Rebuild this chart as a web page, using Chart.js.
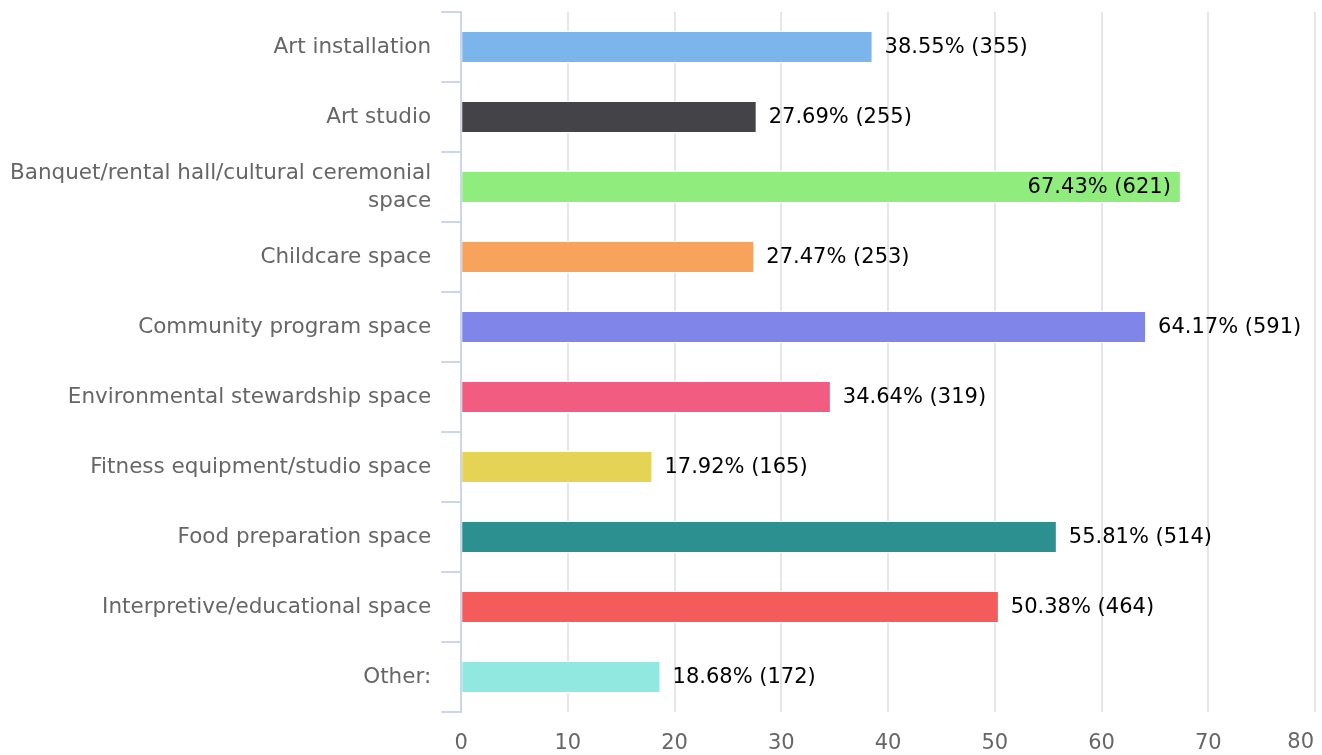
<!DOCTYPE html>
<html>
<head>
<meta charset="utf-8">
<script src="https://cdn.jsdelivr.net/npm/chart.js@4/dist/chart.umd.min.js"></script>
<style>
body{margin:0;background:#fff;}
#wrap{width:1322px;height:755px;position:relative;}
</style>
</head>
<body>
<div id="wrap"><canvas id="chart"></canvas></div>
<script>
const categories = [
  "Art installation",
  "Art studio",
  ["Banquet/rental hall/cultural ceremonial", "space"],
  "Childcare space",
  "Community program space",
  "Environmental stewardship space",
  "Fitness equipment/studio space",
  "Food preparation space",
  "Interpretive/educational space",
  "Other:"
];
const percents = [38.55, 27.69, 67.43, 27.47, 64.17, 34.64, 17.92, 55.81, 50.38, 18.68];
const counts = [355, 255, 621, 253, 591, 319, 165, 514, 464, 172];
const xTicks = [0, 10, 20, 30, 40, 50, 60, 70, 80];
const colors = ["#7cb5ec", "#434348", "#90ed7d", "#f7a35c", "#8085e9",
  "#f15c80", "#e4d354", "#2b908f", "#f45b5b", "#91e8e1"];
const xMax = xTicks[xTicks.length - 1];

// labels after each bar, moved inside when they would not fit
const barLabels = {
  id: "barLabels",
  afterDatasetsDraw(chart) {
    const ctx = chart.ctx;
    const area = chart.chartArea;
    const meta = chart.getDatasetMeta(0);
    ctx.save();
    ctx.font = "21px 'DejaVu Sans'";
    ctx.fillStyle = "#000";
    ctx.textBaseline = "middle";
    meta.data.forEach((bar, i) => {
      const text = percents[i].toFixed(2) + "% (" + counts[i] + ")";
      const w = ctx.measureText(text).width;
      let x = bar.x + 12;
      if (x + w > area.right) {
        ctx.textAlign = "right";
        x = bar.x - 10;
      } else {
        ctx.textAlign = "left";
      }
      ctx.fillText(text, x, bar.y + 1);
    });
    ctx.restore();
  }
};

// last x label is pulled in so it stays on the canvas
const lastTick = {
  id: "lastTick",
  afterDraw(chart) {
    const ctx = chart.ctx;
    const xs = chart.scales.x;
    ctx.save();
    ctx.font = "21px 'DejaVu Sans'";
    ctx.fillStyle = "#666";
    ctx.textBaseline = "middle";
    ctx.textAlign = "right";
    const text = String(xMax);
    const w = ctx.measureText(text).width;
    const x = Math.min(xs.getPixelForValue(xMax) + w / 2, chart.width - 8);
    ctx.fillText(text, x, xs.top + 19 + 12);
    ctx.restore();
  }
};

new Chart(document.getElementById("chart"), {
  type: "bar",
  data: {
    labels: categories,
    datasets: [{
      data: percents,
      backgroundColor: colors,
      borderColor: "#fff",
      borderWidth: 1,
      barPercentage: 0.46,
      categoryPercentage: 1
    }]
  },
  options: {
    indexAxis: "y",
    responsive: true,
    maintainAspectRatio: false,
    animation: false,
    layout: { padding: { left: 0, right: 7, top: 12, bottom: 0 } },
    plugins: {
      legend: { display: false },
      tooltip: { enabled: false }
    },
    scales: {
      x: {
        min: 0,
        max: xMax,
        afterBuildTicks(axis) {
          axis.ticks = xTicks.map(v => ({ value: v }));
        },
        afterFit(scale) {
          scale.height = 43;
          scale.paddingRight = 0;
        },
        grid: { color: "#e6e6e6", lineWidth: 2, drawTicks: false },
        border: { display: false },
        ticks: {
          color: "#666",
          font: { family: "DejaVu Sans", size: 21 },
          padding: 19,
          callback: v => (v === xMax ? "" : v)
        }
      },
      y: {
        afterFit(scale) {
          // no extra room for half labels at the ends
          scale.paddingTop = 0;
          scale.paddingBottom = 0;
        },
        grid: {
          offset: true,
          drawOnChartArea: false,
          tickLength: 20,
          color: "#ccd6eb",
          lineWidth: 2
        },
        border: { color: "#ccd6eb", width: 2 },
        ticks: {
          color: "#666",
          font: { family: "DejaVu Sans", size: 21.5, lineHeight: 1.3 },
          padding: 10
        }
      }
    }
  },
  plugins: [barLabels, lastTick]
});
</script>
</body>
</html>
